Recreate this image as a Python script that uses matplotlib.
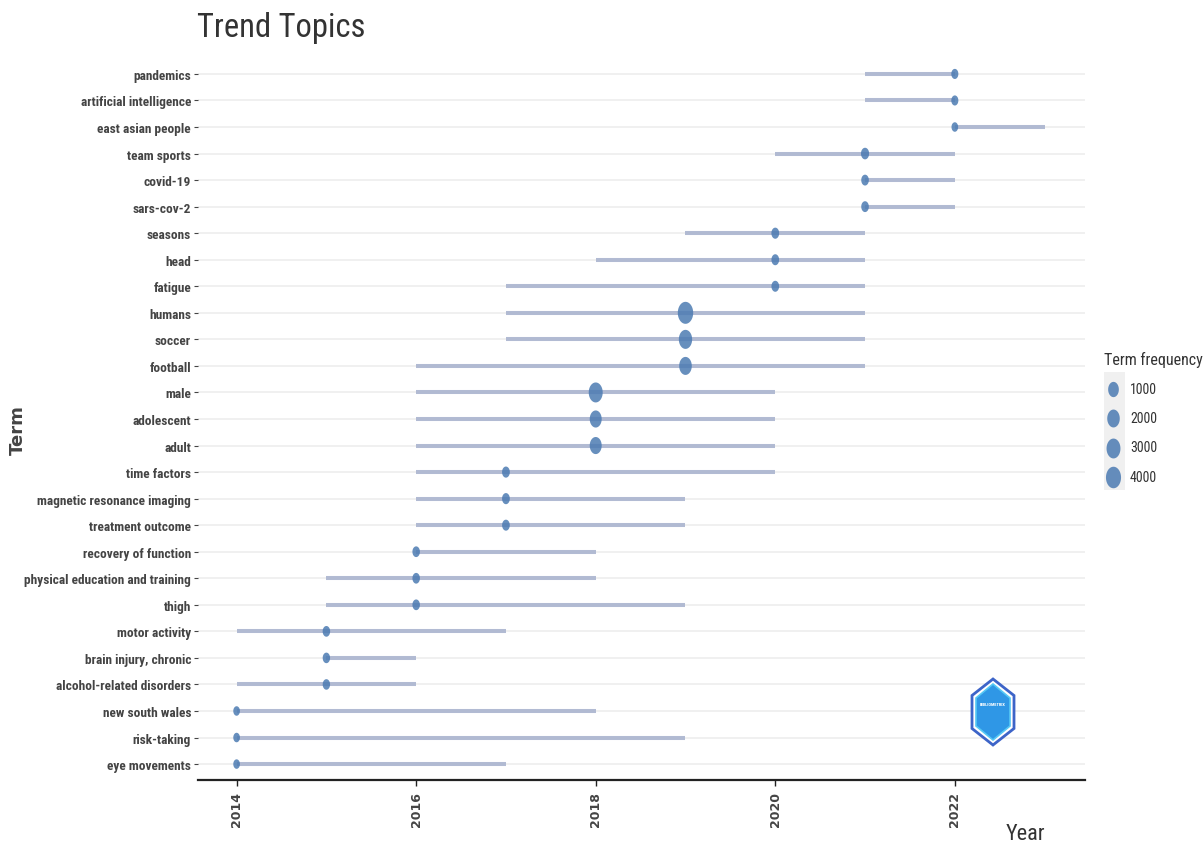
import numpy as np
import matplotlib
matplotlib.use("Agg")
import matplotlib.pyplot as plt
from matplotlib.path import Path
from matplotlib.patches import Polygon, Rectangle

terms = ["pandemics", "artificial intelligence", "east asian people", "team sports",
         "covid-19", "sars-cov-2", "seasons", "head", "fatigue", "humans", "soccer",
         "football", "male", "adolescent", "adult", "time factors",
         "magnetic resonance imaging", "treatment outcome", "recovery of function",
         "physical education and training", "thigh", "motor activity",
         "brain injury, chronic", "alcohol-related disorders", "new south wales",
         "risk-taking", "eye movements"]
year_q1 = [2021, 2021, 2022, 2020, 2021, 2021, 2019, 2018, 2017, 2017, 2017, 2016,
           2016, 2016, 2016, 2016, 2016, 2016, 2016, 2015, 2015, 2014, 2015, 2014,
           2014, 2014, 2014]
year_med = [2022, 2022, 2022, 2021, 2021, 2021, 2020, 2020, 2020, 2019, 2019, 2019,
            2018, 2018, 2018, 2017, 2017, 2017, 2016, 2016, 2016, 2015, 2015, 2015,
            2014, 2014, 2014]
year_q3 = [2022, 2022, 2023, 2022, 2022, 2022, 2021, 2021, 2021, 2021, 2021, 2021,
           2020, 2020, 2020, 2020, 2019, 2019, 2018, 2018, 2019, 2017, 2016, 2016,
           2018, 2019, 2017]
freq = [110, 110, 100, 220, 150, 150, 170, 160, 160, 4300, 2550, 2050,
        3050, 1650, 1650, 170, 170, 160, 140, 140, 140, 140, 130, 130,
        100, 100, 100]
x_ticks = [2014, 2016, 2018, 2020, 2022]
legend_vals = [1000, 2000, 3000, 4000]

NARROW = ["Roboto Condensed", "IBM Plex Sans Condensed", "Archivo Narrow", "DejaVu Sans"]

# ellipse marker (taller than wide)
t = np.linspace(0, 2 * np.pi, 60)
ell = Path(np.column_stack([0.7 * np.cos(t), np.sin(t)]), closed=True)

FMIN, FMAX = min(freq), max(freq)
def msize(f):
    f = np.asarray(f, dtype=float)
    d_px = 9.5 + 12.5 * np.sqrt(np.clip((f - FMIN) / (FMAX - FMIN), 0, 1))
    return (d_px * 0.72) ** 2

fig = plt.figure(figsize=(12.04, 8.45), dpi=100)
ax = fig.add_axes([198 / 1204, 1 - 781 / 845, (1085 - 198) / 1204, (781 - 59) / 845])

n = len(terms)
ypos = np.arange(n)[::-1]
for yy in ypos:
    ax.axhline(yy, color="#ececec", lw=1.1, zorder=0)

ax.hlines(ypos, year_q1, year_q3, color="#aab4cf", lw=2.9, alpha=0.9, zorder=1)
ax.scatter(year_med, ypos, s=msize(freq), marker=ell, color="#4c7bb2", alpha=0.85,
           linewidths=0, zorder=2)

ax.set_xlim(2013.57, 2023.45)
ax.set_ylim(-0.6, n - 1 + 0.6)
ax.set_yticks(ypos)
ax.set_yticklabels(terms, fontfamily=NARROW, fontweight="bold", fontsize=9.6,
                   color="#444444")
ax.set_xticks(x_ticks)
ax.set_xticklabels([str(v) for v in x_ticks], rotation=90, fontweight="bold",
                   fontsize=9, color="#444444")
ax.tick_params(axis="y", length=3, color="#444444", width=0.8, pad=2)
ax.tick_params(axis="x", length=4, color="#222222", width=1, pad=4)
for s in ["top", "right", "left"]:
    ax.spines[s].set_visible(False)
ax.spines["bottom"].set_color("#222222")
ax.spines["bottom"].set_linewidth(1.6)

fig.text(197 / 1204, 1 - 28 / 845, "Trend Topics", fontfamily=NARROW, fontsize=23.5,
         color="#333333", va="center", ha="left")
fig.text(18 / 1204, 1 - 430 / 845, "Term", rotation=90, fontweight="bold", fontsize=13,
         color="#444444", va="center", ha="center")
fig.text(1025 / 1204, 1 - 835 / 845, "Year", fontfamily=NARROW, fontsize=16,
         color="#333333", va="center", ha="center")

# legend
fig.patches.append(Rectangle((1104 / 1204, 1 - 491 / 845), 21 / 1204, 118 / 845,
                             transform=fig.transFigure, facecolor="#f0f0f0",
                             edgecolor="none", zorder=0))
handles = [ax.scatter([], [], s=msize(v), marker=ell, color="#4c7bb2", alpha=0.85,
                      linewidths=0) for v in legend_vals]
leg = fig.legend(handles, [str(v) for v in legend_vals], title="Term frequency",
                 loc="upper left", bbox_to_anchor=(1098 / 1204, 1 - 346 / 845),
                 frameon=False, prop={"family": NARROW, "size": 10},
                 title_fontproperties={"family": NARROW, "size": 11.5},
                 labelspacing=1.1, handletextpad=0.6, borderaxespad=0,
                 handlelength=1.3, alignment="left")
leg.get_title().set_color("#333333")
for txt in leg.get_texts():
    txt.set_color("#333333")

# logo
def hexv(cx, cy, w, h):
    pts = [(cx, cy - h / 2), (cx + w / 2, cy - h / 4), (cx + w / 2, cy + h / 4),
           (cx, cy + h / 2), (cx - w / 2, cy + h / 4), (cx - w / 2, cy - h / 4)]
    return [(px / 1204, 1 - py / 845) for px, py in pts]

fig.patches.append(Polygon(hexv(993, 713, 42, 66), closed=True, transform=fig.transFigure,
                           facecolor="white", edgecolor="#3d64c8", lw=2))
fig.patches.append(Polygon(hexv(993, 713, 34, 56), closed=True, transform=fig.transFigure,
                           facecolor="#2f97e6", edgecolor="#55c8f5", lw=1.2))
fig.text(993 / 1204, 1 - 705 / 845, "BIBLIOMETRIX", fontsize=3.2, fontweight="bold",
         fontfamily=NARROW, color="white", ha="center", va="center")

fig.savefig("out.png", dpi=100, facecolor="white")
